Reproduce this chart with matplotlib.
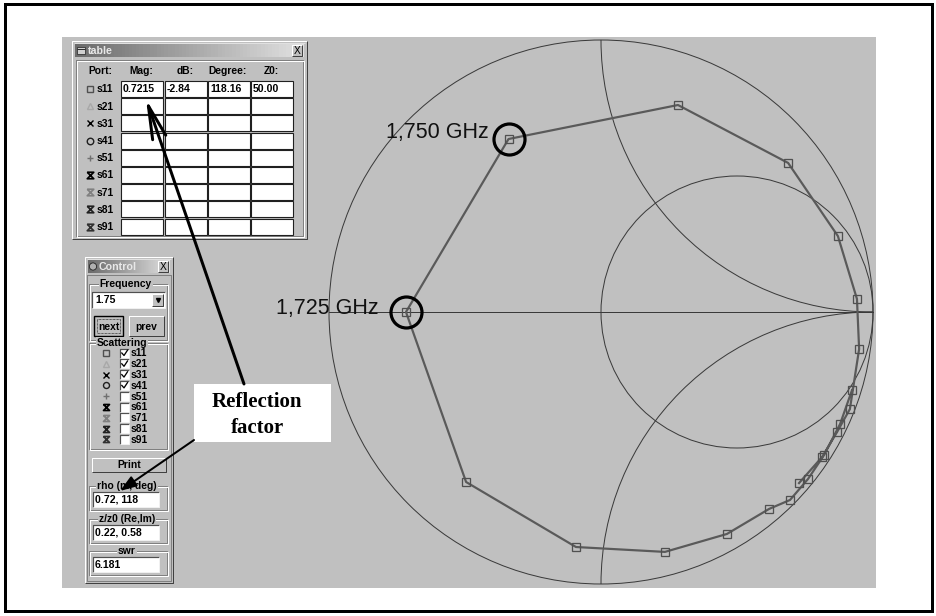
import numpy as np
import matplotlib.pyplot as plt
from matplotlib.patches import Rectangle, Circle
from matplotlib.path import Path

gamma_re = [0.923, 0.879, 0.820, 0.761, 0.695, 0.618, 0.463, 0.235, -0.092, -0.496,
            -0.717, -0.340, 0.283, 0.688, 0.871, 0.941, 0.949, 0.915, 0.868, 0.813, 0.728]
gamma_im = [-0.287, -0.412, -0.526, -0.614, -0.691, -0.724, -0.816, -0.882, -0.864, -0.625,
            0.0, 0.636, 0.761, 0.548, 0.279, 0.048, -0.136, -0.357, -0.441, -0.533, -0.629]
marked_idx = [10, 11]
marked_txt = ['1,725 GHz', '1,750 GHz']

# "table" window
ports = ['s11', 's21', 's31', 's41', 's51', 's61', 's71', 's81', 's91']
port_markers = ['s', '^', 'x', 'o', '+', 'hg', 'hg', 'hg', 'hg']
port_colors = ['#505050', '#a8a8a8', '#000000', '#202020', '#707070',
               '#000000', '#808080', '#202020', '#303030']
table_cols = ['Mag:', 'dB:', 'Degree:', 'Z0:']
s11_row = ['0.7215', '-2.84', '118.16', '50.00']

# "Control" window
checked = [True, True, True, True, False, False, False, False, False]
freq_value = '1.75'
rho_text = '0.72, 118'
zz0_text = '0.22, 0.58'
swr_text = '6.181'

BG = '#c0c0c0'
UI_FONT = 'Liberation Sans'
FS = 7.4
px = 0.72  # one pixel in points at dpi 100

hourglass = Path([(-1, 1), (1, 1), (-1, -1), (1, -1), (-1, 1)],
                 [Path.MOVETO] + [Path.LINETO] * 4)

fig = plt.figure(figsize=(9.36, 6.16), dpi=100)
fig.patch.set_facecolor('white')

# ---- smith chart ----
cx, cy, R = 601, 312, 272
gx0, gx1, gy0, gy1 = 62, 876, 37, 588
sm = fig.add_axes([gx0 / 936, (616 - gy1) / 616, (gx1 - gx0) / 936, (gy1 - gy0) / 616])
sm.set_xlim((gx0 - cx) / R, (gx1 - cx) / R)
sm.set_ylim((cy - gy1) / R, (cy - gy0) / R)
sm.set_facecolor(BG)
sm.axis('off')
sm.add_patch(Rectangle((0, 0), 1, 1, transform=sm.transAxes, fc=BG, ec='none', zorder=0))

grid_col = '#3a3a3a'
unit = Circle((0, 0), 1, fc='none', ec=grid_col, lw=1 * px, zorder=1)
sm.add_patch(unit)
sm.add_patch(Circle((0.5, 0), 0.5, fc='none', ec=grid_col, lw=1 * px, zorder=1))
for yc in (1, -1):
    arc = Circle((1, yc), 1, fc='none', ec=grid_col, lw=1 * px, zorder=1)
    sm.add_patch(arc)
    arc.set_clip_path(unit)
sm.plot([-1, 1], [0, 0], color=grid_col, lw=1 * px, zorder=1)

sm.plot(gamma_re, gamma_im, color='#5a5a5a', lw=2.2 * px, zorder=3)
sm.plot(gamma_re, gamma_im, ls='none', marker='s', ms=8 * px, mfc='none',
        mec='#505050', mew=1.3 * px, zorder=4)

offsets = [(-27, 3), (-20, 7)]
for i, txt, off in zip(marked_idx, marked_txt, offsets):
    sm.plot(gamma_re[i], gamma_im[i], marker='o', ms=31 * px, mfc='none',
            mec='black', mew=3.2 * px, zorder=5)
    sm.annotate(txt, (gamma_re[i], gamma_im[i]), xytext=(off[0] * px, off[1] * px),
                textcoords='offset points', ha='right', va='center',
                fontsize=15.5, family='Liberation Sans', color='#111111', zorder=6)

# ---- overlay in pixel coordinates for the windows ----
ui = fig.add_axes([0, 0, 1, 1], zorder=5)
ui.patch.set_alpha(0)
ui.axis('off')


def line(xs, ys, c, w=1, z=3):
    ui.plot(xs, ys, color=c, lw=w * px, zorder=z, solid_capstyle='butt')


def raised(x0, y0, x1, y1, face=BG, z=2):
    ui.add_patch(Rectangle((x0, y0), x1 - x0, y1 - y0, fc=face, ec='none', zorder=z))
    line([x0, x0, x1], [y1, y0, y0], 'white', 1, z + 0.1)
    line([x0, x1, x1], [y1, y1, y0], '#404040', 1, z + 0.1)


def sunken(x0, y0, x1, y1, face='white', z=3):
    ui.add_patch(Rectangle((x0, y0), x1 - x0, y1 - y0, fc=face, ec='none', zorder=z))
    line([x0, x0, x1], [y1, y0, y0], '#505050', 1.2, z + 0.1)
    line([x0, x1, x1], [y1, y1, y0], '#f0f0f0', 1, z + 0.1)


def group(x0, y0, x1, y1, label, lx):
    line([x0, x1, x1, x0, x0], [y0, y0, y1, y1, y0], '#808080', 1, 3)
    line([x0 + 1, x1 + 1, x1 + 1, x0 + 1, x0 + 1], [y0 + 1, y0 + 1, y1 + 1, y1 + 1, y0 + 1], 'white', 1, 3)
    ui.text(lx, y0, label, ha='center', va='center', fontsize=FS, weight='bold',
            family=UI_FONT, zorder=4, bbox=dict(fc=BG, ec='none', pad=0.6))


def titlebar(x0, y0, x1, y1, title, tx):
    grad = np.linspace(0.42, 0.88, 64)[None, :]
    ui.imshow(grad, cmap='gray', vmin=0, vmax=1, extent=(x0, x1, y1, y0),
              aspect='auto', zorder=3)
    ui.text(tx, (y0 + y1) / 2, title, ha='left', va='center', fontsize=FS + 0.3,
            weight='bold', color='#e8e8e8', family=UI_FONT, zorder=4)
    raised(x1 - 12, y0 + 1, x1 - 2, y1 - 1, z=4)
    ui.text(x1 - 7, (y0 + y1) / 2, 'X', ha='center', va='center', fontsize=FS,
            family=UI_FONT, zorder=5)


def sym(x, y, m, c, s=6.5):
    if m == 'hg':
        ui.plot(x, y, marker=hourglass, ms=s * px, mfc='none', mec=c, mew=1.7 * px, zorder=5)
    else:
        ui.plot(x, y, marker=m, ms=s * px, mfc='none', mec=c, mew=1.4 * px, zorder=5)


# table window
raised(72, 41, 307, 239)
line([74, 305], [43, 43], '#e0e0e0', 1, 2.2)
titlebar(75, 44, 304, 57, 'table', 88)
ui.add_patch(Rectangle((77, 46.5), 8, 7, fc='#d0d0d0', ec='#303030', lw=0.8 * px, zorder=4))
line([77, 85], [48.5, 48.5], '#303030', 1, 4.1)
line([76, 303, 303, 76, 76], [60, 60, 236, 236, 60], '#808080', 1, 2.5)
line([77, 304, 304, 77, 77], [61, 61, 237, 237, 61], 'white', 1, 2.5)

col_left = [121, 165, 208, 251]
col_w = 42
ui.text(100, 71, 'Port:', ha='center', va='center', fontsize=FS, weight='bold', family=UI_FONT, zorder=4)
for xl, name in zip(col_left, table_cols):
    ui.text(xl + col_w / 2 - 1, 71, name, ha='center', va='center', fontsize=FS,
            weight='bold', family=UI_FONT, zorder=4)
for i, (p, m, c) in enumerate(zip(ports, port_markers, port_colors)):
    yc = 89 + 17.2 * i
    sym(90, yc, m, c)
    ui.text(97, yc + 0.5, p, ha='left', va='center', fontsize=FS, weight='bold',
            family=UI_FONT, zorder=4)
    for xl in col_left:
        ui.add_patch(Rectangle((xl, yc - 8), col_w, 16, fc='white', ec='#202020',
                               lw=1.1 * px, zorder=3))
for xl, v in zip(col_left, s11_row):
    ui.text(xl + 2, 89, v, ha='left', va='center', fontsize=FS + 0.2, weight='bold',
            family=UI_FONT, zorder=4)

# control window
raised(85, 257, 173, 583)
line([87, 171], [259, 259], '#e0e0e0', 1, 2.2)
titlebar(88, 260, 170, 273, 'Control', 99)
ui.add_patch(Circle((93, 266.5), 3.6, fc='#b0b0b0', ec='#202020', lw=0.8 * px, zorder=4))
line([87, 171, 171, 87, 87], [275, 275, 581, 581, 275], '#808080', 1, 2.5)

group(89, 284, 167, 340, 'Frequency', 126)
sunken(92, 292, 165, 308)
raised(152, 294, 163, 306, z=4)
ui.plot(157.5, 300, marker='v', ms=4 * px, color='black', zorder=5)
ui.text(95, 300, freq_value, ha='left', va='center', fontsize=FS + 0.2, weight='bold', family=UI_FONT, zorder=5)
raised(94, 316, 123, 336)
ui.add_patch(Rectangle((94, 316), 29, 20, fc='none', ec='black', lw=1.4 * px, zorder=4))
ui.add_patch(Rectangle((97, 319), 23, 14, fc='none', ec='black', lw=0.7 * px, ls=(0, (1, 1)), zorder=4))
ui.text(108.5, 326.5, 'next', ha='center', va='center', fontsize=FS, weight='bold', family=UI_FONT, zorder=5)
raised(129, 316, 164, 336)
ui.text(146.5, 326.5, 'prev', ha='center', va='center', fontsize=FS, weight='bold', family=UI_FONT, zorder=5)

group(89, 343, 167, 449, 'Scattering', 122)
for i, (p, m, c, chk) in enumerate(zip(ports, port_markers, port_colors, checked)):
    yc = 353 + 10.8 * i
    sym(106, yc, m, c, 6)
    sunken(120, yc - 4.5, 129, yc + 4.5, z=4)
    if chk:
        ui.plot([121.8, 124, 127.5], [yc, yc + 2.5, yc - 2.8], color='black', lw=1.3 * px, zorder=5)
    ui.text(131, yc + 0.5, p, ha='left', va='center', fontsize=FS, weight='bold',
            family=UI_FONT, zorder=5)

raised(92, 458, 166, 472)
ui.text(129, 465, 'Print', ha='center', va='center', fontsize=FS, weight='bold', family=UI_FONT, zorder=5)

fields = [(486, 'rho (m, deg)', rho_text), (519, 'z/z0 (Re,Im)', zz0_text), (551, 'swr', swr_text)]
for y0, lab, val in fields:
    group(89, y0, 167, y0 + 24, lab, 127)
    sunken(93, y0 + 6, 159, y0 + 21, z=4)
    ui.text(95, y0 + 13.5, val, ha='left', va='center', fontsize=FS + 0.2, weight='bold',
            family=UI_FONT, zorder=5)

# callout box and arrows
ui.add_patch(Rectangle((194, 384), 137, 58, fc='white', ec='none', zorder=7))
ui.text(257, 402, 'Reflection', ha='center', va='center', fontsize=15, weight='bold',
        family='Liberation Serif', zorder=8)
ui.text(257, 428, 'factor', ha='center', va='center', fontsize=15, weight='bold',
        family='Liberation Serif', zorder=8)
ui.annotate('', xy=(146, 99), xytext=(244, 384),
            arrowprops=dict(arrowstyle='->, head_length=2.4, head_width=0.5', lw=3 * px,
                            color='black', shrinkA=0, shrinkB=0, mutation_scale=10), zorder=9)
ui.annotate('', xy=(120, 491), xytext=(194, 440),
            arrowprops=dict(arrowstyle='-|>, head_length=1.0, head_width=0.35', lw=2 * px,
                            color='black', shrinkA=0, shrinkB=0, mutation_scale=10), zorder=9)

# outer frame
ui.add_patch(Rectangle((5, 4), 927, 607, fc='none', ec='black', lw=3 * px, zorder=10))

ui.set_xlim(0, 936)
ui.set_ylim(616, 0)

fig.savefig('out.png', dpi=100)
